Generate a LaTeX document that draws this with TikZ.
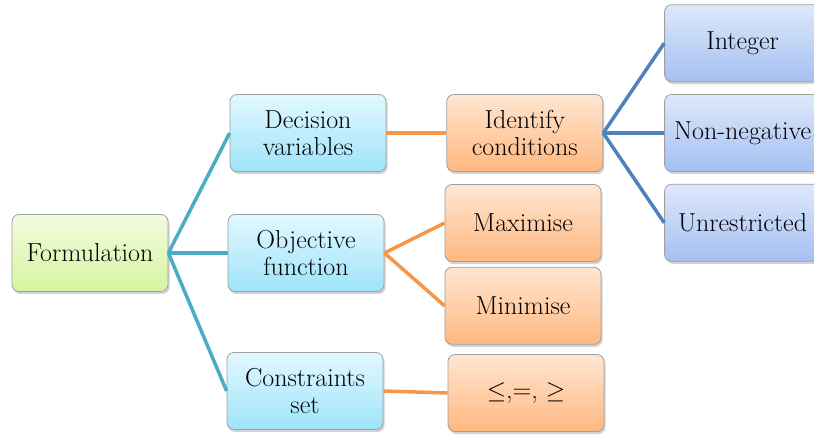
\documentclass[tikz,border=0pt]{standalone}
\usepackage{fontspec}
\usetikzlibrary{positioning,shadows}
\definecolor{greentop}{RGB}{242,251,224}
\definecolor{greenbot}{RGB}{214,244,160}
\definecolor{skytop}{RGB}{226,248,255}
\definecolor{skybot}{RGB}{158,228,250}
\definecolor{peachtop}{RGB}{255,230,210}
\definecolor{peachbot}{RGB}{255,184,128}
\definecolor{bluetop}{RGB}{222,232,251}
\definecolor{bluebot}{RGB}{164,192,242}
\definecolor{tealline}{RGB}{75,172,198}
\definecolor{orangeline}{RGB}{247,150,70}
\definecolor{blueline}{RGB}{79,129,189}

\begin{document}
\begin{tikzpicture}[x=1pt, y=-1pt,
      box/.style={draw=gray!75, rounded corners=7pt, line width=0.8pt,
                  minimum width=156pt, minimum height=77pt, align=center,
                  font=\fontsize{26}{27}\selectfont,
                  drop shadow={shadow xshift=1.5pt, shadow yshift=-2.5pt,
                               opacity=0.35}},
      rootbox/.style={box, top color=greentop, bottom color=greenbot},
      skybox/.style={box, top color=skytop, bottom color=skybot},
      peachbox/.style={box, top color=peachtop, bottom color=peachbot},
      bluebox/.style={box, top color=bluetop, bottom color=bluebot},
      teal/.style={line width=3.5pt, tealline},
      orng/.style={line width=3.5pt, orangeline},
      blu/.style={line width=3.5pt, blueline}
    ]
    \useasboundingbox (0,0) rectangle (814,434);
    % ROOT
    \node[rootbox] (form) at (90,253) {Formulation};
    % LEVEL 1
    \node[skybox] (dec) at (308,133) {Decision\\variables};
    \node[skybox] (obj) at (306,253) {Objective\\function};
    \node[skybox] (cons) at (305,391) {Constraints\\set};
    % LEVEL 2
    \node[peachbox, right=60pt of dec] (ident) {Identify\\conditions};
    \node[peachbox] (max) at (523,223) {Maximise};
    \node[peachbox, below=5pt of max] (min) {Minimise};
    \node[peachbox] (rel) at (526,393) {$\leq$,=, $\geq$};
    % LEVEL 3
    \node[bluebox, right=61pt of ident] (nonneg) {Non-negative};
    \node[bluebox, above=12pt of nonneg] (int) {Integer};
    \node[bluebox, below=12pt of nonneg] (unres) {Unrestricted};
    % root -> level 1
    \draw[teal] (form.east) -- (dec.west);
    \draw[teal] (form.east) -- (obj.west);
    \draw[teal] (form.east) -- (cons.west);
    % level 1 -> level 2
    \draw[orng] (dec.east) -- (ident.west);
    \draw[orng] (obj.east) -- (max.west);
    \draw[orng] (obj.east) -- (min.west);
    \draw[orng] (cons.east) -- (rel.west);
    % level 2 -> level 3
    \draw[blu] (ident.east) -- (int.west);
    \draw[blu] (ident.east) -- (nonneg.west);
    \draw[blu] (ident.east) -- (unres.west);
  \end{tikzpicture}
\end{document}
